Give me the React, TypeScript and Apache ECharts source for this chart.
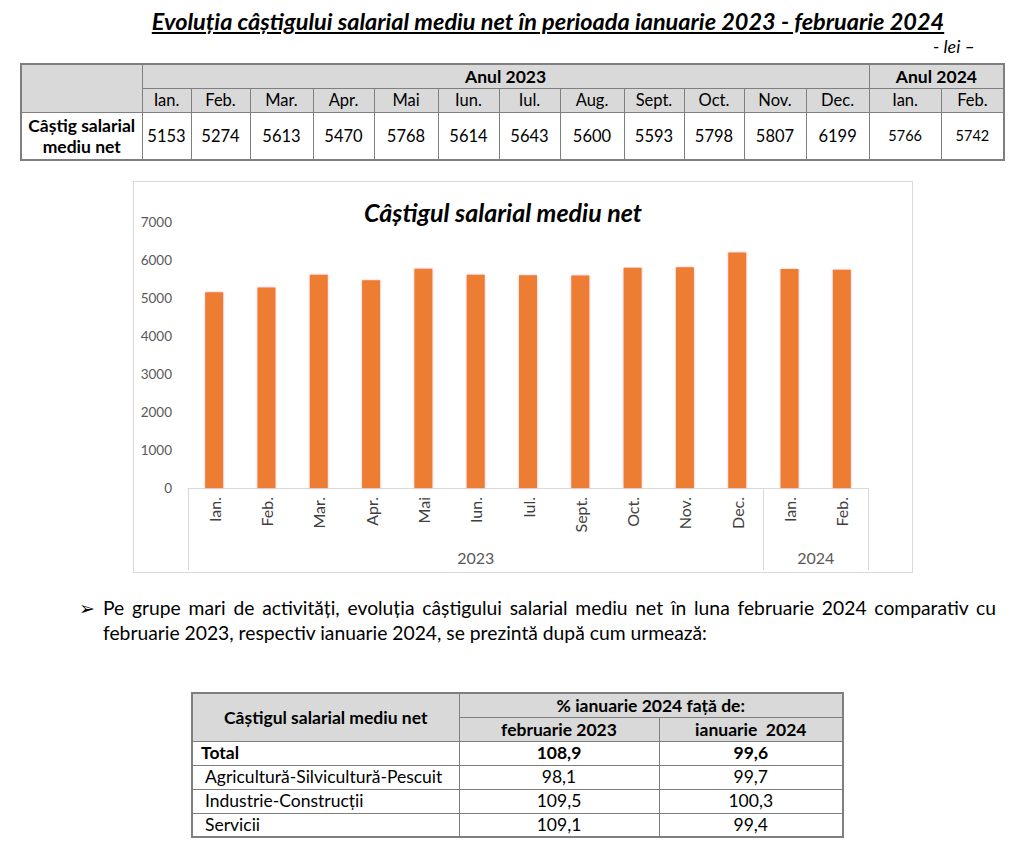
import React, { useEffect, useRef } from "react";
import * as echarts from "echarts";

// ---- data ----
const tableMonths2023 = ["Ian.", "Feb.", "Mar.", "Apr.", "Mai", "Iun.", "Iul.", "Aug.", "Sept.", "Oct.", "Nov.", "Dec."];
const tableMonths2024 = ["Ian.", "Feb."];
const tableValues2023 = [5153, 5274, 5613, 5470, 5768, 5614, 5643, 5600, 5593, 5798, 5807, 6199];
const tableValues2024 = [5766, 5742];

const chartMonths = ["Ian.", "Feb.", "Mar.", "Apr.", "Mai", "Iun.", "Iul.", "Sept.", "Oct.", "Nov.", "Dec.", "Ian.", "Feb."];
const chartValues = [5153, 5274, 5613, 5470, 5768, 5614, 5600, 5593, 5798, 5807, 6199, 5766, 5742];
const chartYears = ["2023", "2024"];
const chartYearCounts = [11, 2];

const sectors = ["Total", "Agricultură-Silvicultură-Pescuit", "Industrie-Construcții", "Servicii"];
const vsFeb2023 = ["108,9", "98,1", "109,5", "109,1"];
const vsJan2024 = ["99,6", "99,7", "100,3", "99,4"];

const FONT = "Lato, 'Open Sans', 'DejaVu Sans', sans-serif";

// column widths of the top table
const topColWidths = [121, 49, 59, 63, 61, 64, 61, 61, 64, 60, 60, 62, 63, 72, 63];

function Chart() {
  const ref = useRef<HTMLDivElement>(null);
  useEffect(() => {
    if (!ref.current) return;
    const chart = echarts.init(ref.current, undefined, { renderer: "svg" });
    const bounds: number[] = [0];
    chartYearCounts.forEach((c, i) => bounds.push(bounds[i] + c));
    const centers = chartYearCounts.map((c, i) => bounds[i] + c / 2);
    const total = bounds[bounds.length - 1];
    chart.setOption({
      animation: false,
      backgroundColor: "#ffffff",
      title: {
        text: "Câștigul salarial mediu net",
        left: 364,
        top: 12,
        textAlign: "center",
        textStyle: { fontFamily: FONT, fontSize: 25, fontWeight: "bold", fontStyle: "italic", color: "#000" },
      },
      grid: { left: 54, right: 44, top: 40, bottom: 84 },
      xAxis: [
        {
          type: "category",
          data: chartMonths,
          position: "bottom",
          offset: 0,
          axisLine: { show: true, lineStyle: { color: "#d9d9d9", width: 1 } },
          axisTick: { show: false },
          axisLabel: { rotate: 90, margin: 9, fontFamily: FONT, fontSize: 16, color: "#404040", interval: 0 },
        },
        {
          type: "value",
          min: 0,
          max: total,
          position: "bottom",
          offset: 0,
          axisLine: { show: false },
          splitLine: { show: false },
          axisTick: { show: true, customValues: bounds, length: 82, lineStyle: { color: "#d9d9d9", width: 1 } },
          axisLabel: {
            customValues: centers,
            margin: 61,
            fontFamily: FONT,
            fontSize: 16,
            color: "#595959",
            formatter: (v: number) => {
              const i = centers.findIndex((c) => Math.abs(c - v) < 0.01);
              return i >= 0 ? chartYears[i] : "";
            },
          },
        },
      ],
      yAxis: {
        type: "value",
        min: 0,
        max: 7000,
        interval: 1000,
        axisLine: { show: false },
        axisTick: { show: false },
        splitLine: { show: false },
        axisLabel: {
          margin: 16,
          fontFamily: FONT,
          fontSize: 13.5,
          color: "#595959",
          formatter: (v: number) => String(v),
        },
      },
      series: [
        {
          type: "bar",
          xAxisIndex: 0,
          data: chartValues,
          barWidth: 18,
          itemStyle: { color: "#ED7D31", shadowColor: "rgba(255,120,140,0.55)", shadowBlur: 2 },
        },
      ],
    });
    return () => chart.dispose();
  }, []);
  return <div ref={ref} style={{ width: 778, height: 390 }} />;
}

const cellBorder = "1px solid #7f7f7f";

export default function App() {
  const gray = "#d9d9d9";
  const td = (extra: React.CSSProperties = {}): React.CSSProperties => ({
    border: cellBorder,
    padding: 0,
    textAlign: "center",
    verticalAlign: "middle",
    fontFamily: FONT,
    color: "#000",
    whiteSpace: "nowrap",
    ...extra,
  });
  return (
    <div style={{ position: "absolute", left: 0, top: 0, width: 1024, height: 848, background: "#fff", fontFamily: FONT, overflow: "hidden" }}>
      {/* page title */}
      <div
        style={{
          position: "absolute",
          left: 0,
          width: 1096,
          top: 6,
          textAlign: "center",
          fontSize: 23.5,
          fontWeight: "bold",
          fontStyle: "italic",
          textDecoration: "underline",
          lineHeight: "30px",
          color: "#000",
        }}
      >
        Evoluția câștigului salarial mediu net în perioada ianuarie 2023 - februarie 2024
      </div>
      <div style={{ position: "absolute", right: 49, top: 35, fontSize: 18, fontStyle: "italic", lineHeight: "22px", whiteSpace: "pre" }}>- lei –</div>

      {/* top table */}
      <table
        style={{
          position: "absolute",
          left: 20,
          top: 63,
          width: 983,
          borderCollapse: "collapse",
          tableLayout: "fixed",
          border: "2px solid #7f7f7f",
        }}
      >
        <colgroup>
          {topColWidths.map((w, i) => (
            <col key={i} style={{ width: w }} />
          ))}
        </colgroup>
        <tbody>
          <tr style={{ height: 24 }}>
            <td rowSpan={2} style={td({ background: gray })}></td>
            <td colSpan={tableMonths2023.length} style={td({ background: gray, fontWeight: "bold", fontSize: 17.5 })}>
              Anul 2023
            </td>
            <td colSpan={tableMonths2024.length} style={td({ background: gray, fontWeight: "bold", fontSize: 17.5 })}>
              Anul 2024
            </td>
          </tr>
          <tr style={{ height: 24 }}>
            {tableMonths2023.concat(tableMonths2024).map((m, i) => (
              <td key={i} style={td({ background: gray, fontSize: 16.5 })}>
                {m}
              </td>
            ))}
          </tr>
          <tr style={{ height: 48 }}>
            <td style={td({ fontWeight: "bold", fontSize: 17.5, lineHeight: "21px" })}>
              Câștig salarial
              <br />
              mediu net
            </td>
            {tableValues2023.map((v, i) => (
              <td key={i} style={td({ fontSize: 16.5 })}>
                {v}
              </td>
            ))}
            {tableValues2024.map((v, i) => (
              <td key={"b" + i} style={td({ fontSize: 14.5 })}>
                {v}
              </td>
            ))}
          </tr>
        </tbody>
      </table>

      {/* chart */}
      <div
        style={{
          position: "absolute",
          left: 133,
          top: 181,
          width: 780,
          height: 392,
          boxSizing: "border-box",
          border: "1px solid #d9d9d9",
        }}
      >
        <Chart />
      </div>

      {/* bullet paragraph */}
      <div style={{ position: "absolute", left: 79, top: 596, fontSize: 19, lineHeight: "24px" }}>➢</div>
      <div style={{ position: "absolute", left: 103, top: 595, width: 893, fontSize: 19.3, lineHeight: "25px", color: "#000" }}>
        <div style={{ textAlign: "justify", textAlignLast: "justify" as any, whiteSpace: "nowrap" as any }}>
          Pe grupe mari de activități, evoluția câștigului salarial mediu net în luna februarie 2024 comparativ cu
        </div>
        <div>februarie 2023, respectiv ianuarie 2024, se prezintă după cum urmează:</div>
      </div>

      {/* bottom table */}
      <table
        style={{
          position: "absolute",
          left: 191,
          top: 692,
          width: 651,
          borderCollapse: "collapse",
          tableLayout: "fixed",
          border: "2px solid #7f7f7f",
        }}
      >
        <colgroup>
          <col style={{ width: 267 }} />
          <col style={{ width: 200 }} />
          <col style={{ width: 184 }} />
        </colgroup>
        <tbody>
          <tr style={{ height: 24 }}>
            <td rowSpan={2} style={td({ background: gray, fontWeight: "bold", fontSize: 17.5 })}>
              Câștigul salarial mediu net
            </td>
            <td colSpan={2} style={td({ background: gray, fontWeight: "bold", fontSize: 17.5 })}>
              % ianuarie 2024 față de:
            </td>
          </tr>
          <tr style={{ height: 24 }}>
            <td style={td({ background: gray, fontWeight: "bold", fontSize: 17.5 })}>februarie 2023</td>
            <td style={td({ background: gray, fontWeight: "bold", fontSize: 17.5, whiteSpace: "pre" })}>ianuarie  2024</td>
          </tr>
          {sectors.map((s, i) => (
            <tr key={i} style={{ height: 24 }}>
              <td
                style={td({
                  textAlign: "left",
                  paddingLeft: i === 0 ? 8 : 12,
                  fontSize: 17.5,
                  fontWeight: i === 0 ? "bold" : "normal",
                  lineHeight: "22px",
                })}
              >
                {s}
              </td>
              <td style={td({ fontSize: 17.5, fontWeight: i === 0 ? "bold" : "normal", lineHeight: "22px" })}>{vsFeb2023[i]}</td>
              <td style={td({ fontSize: 17.5, fontWeight: i === 0 ? "bold" : "normal", lineHeight: "22px" })}>{vsJan2024[i]}</td>
            </tr>
          ))}
        </tbody>
      </table>
    </div>
  );
}
